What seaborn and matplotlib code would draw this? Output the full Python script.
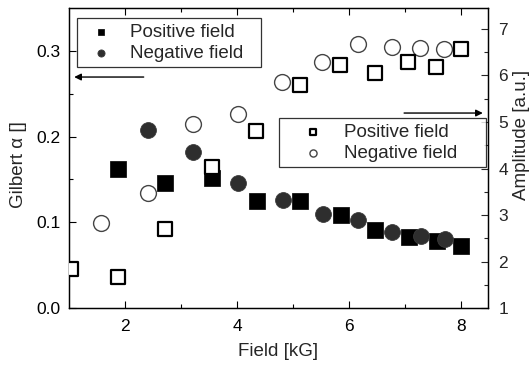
import matplotlib
matplotlib.use("Agg")
import matplotlib.pyplot as plt
import seaborn as sns
import pandas as pd

# Data
pos_field_alpha = [1.88, 2.72, 3.55, 4.35, 5.13, 5.85, 6.47, 7.07, 7.57, 8.00]
pos_alpha = [0.162, 0.1455, 0.152, 0.125, 0.125, 0.108, 0.091, 0.083, 0.0786, 0.0723]

neg_field_alpha = [2.40, 3.21, 4.02, 4.82, 5.53, 6.16, 6.77, 7.28, 7.72]
neg_alpha = [0.208, 0.182, 0.146, 0.126, 0.110, 0.1027, 0.0887, 0.084, 0.081]

pos_field_amp = [1.03, 1.88, 2.72, 3.55, 4.34, 5.13, 5.84, 6.46, 7.06, 7.56, 8.00]
pos_amp = [1.83, 1.67, 2.71, 4.04, 4.81, 5.80, 6.23, 6.05, 6.28, 6.18, 6.57]

neg_field_amp = [1.56, 2.40, 3.21, 4.01, 4.81, 5.52, 6.16, 6.76, 7.26, 7.69]
neg_amp = [2.82, 3.48, 4.95, 5.17, 5.87, 6.28, 6.67, 6.62, 6.58, 6.57]

x_ticks = [2, 4, 6, 8]
left_ticks = [0.0, 0.1, 0.2, 0.3]
right_ticks = [1, 2, 3, 4, 5, 6, 7]

sns.set_theme(style="ticks")
plt.rcParams["font.family"] = ["Liberation Sans", "DejaVu Sans"]
plt.rcParams["xtick.direction"] = "in"
plt.rcParams["ytick.direction"] = "in"

fig = plt.figure(figsize=(5.32, 3.65), dpi=100)
ax = fig.add_axes([0.130, 0.156, 0.787, 0.822])
ax2 = ax.twinx()

df_pa = pd.DataFrame({"f": pos_field_alpha, "v": pos_alpha})
df_na = pd.DataFrame({"f": neg_field_alpha, "v": neg_alpha})
df_pm = pd.DataFrame({"f": pos_field_amp, "v": pos_amp})
df_nm = pd.DataFrame({"f": neg_field_amp, "v": neg_amp})

sns.scatterplot(data=df_pa, x="f", y="v", ax=ax, marker="s", s=120,
                color="black", edgecolor="black", linewidth=0.5,
                label="Positive field", zorder=3)
sns.scatterplot(data=df_na, x="f", y="v", ax=ax, marker="o", s=130,
                color="#2e2e2e", edgecolor="#3a3a3a", linewidth=0.6,
                label="Negative field", zorder=4)
sns.scatterplot(data=df_nm, x="f", y="v", ax=ax2, marker="o", s=130,
                color="white", edgecolor="#444444", linewidth=1.0,
                label="Negative field", zorder=3)
sns.scatterplot(data=df_pm, x="f", y="v", ax=ax2, marker="s", s=105,
                color="white", edgecolor="black", linewidth=1.6,
                label="Positive field", zorder=4)

ax.set_xlim(1.0, 8.48)
ax.set_ylim(0.0, 0.35)
ax2.set_ylim(1.0, 7.45)

ax.set_xticks(x_ticks)
ax.set_xticks([3, 5, 7], minor=True)
ax.set_yticks(left_ticks)
ax.set_yticks([0.05, 0.15, 0.25], minor=True)
ax2.set_yticks(right_ticks)
ax2.set_yticks([1.5, 2.5, 3.5, 4.5, 5.5, 6.5], minor=True)
ax.set_yticklabels([f"{t:.1f}" for t in left_ticks])

ax.tick_params(axis="both", which="both", direction="in", top=True,
               labelsize=12.5, colors="black", length=5, width=0.8)
ax.tick_params(which="minor", length=3)
ax.tick_params(axis="y", right=False, pad=6.5)
ax.tick_params(axis="x", pad=8)
ax2.tick_params(axis="y", which="both", direction="in", labelsize=12.5,
                length=5, width=0.8, pad=7.5)
ax2.tick_params(axis="y", which="minor", length=3)

for a in (ax, ax2):
    for sp in a.spines.values():
        sp.set_visible(True)
        sp.set_linewidth(0.9)
        sp.set_color("black")

ax.set_xlabel("Field [kG]", fontsize=13.5, labelpad=6)
ax.set_ylabel("Gilbert \u03b1 []", fontsize=13.5)
ax.yaxis.set_label_coords(-0.100, 0.477)
ax2.set_ylabel("Amplitude [a.u.]", fontsize=13.5)
ax2.yaxis.set_label_coords(1.060, 0.577)

h1, l1 = ax.get_legend_handles_labels()
leg1 = ax.legend(h1, l1, loc="upper left", bbox_to_anchor=(0.019, 0.967, 0.439, 0.0),
                 mode="expand", borderaxespad=0, fancybox=False, frameon=True,
                 edgecolor="black", fontsize=13.5, markerscale=0.45,
                 handlelength=2.0, handletextpad=0.5, borderpad=0.3,
                 labelspacing=0.2)
leg1.get_frame().set_linewidth(0.9)
leg1.set_zorder(10)

h2, l2 = ax2.get_legend_handles_labels()
order = [l2.index("Positive field"), l2.index("Negative field")]
leg2 = ax2.legend([h2[i] for i in order], [l2[i] for i in order],
                  loc="upper left", bbox_to_anchor=(0.501, 0.633, 0.494, 0.0),
                  mode="expand", borderaxespad=0, fancybox=False, frameon=True,
                  edgecolor="black", fontsize=13.5, markerscale=0.45,
                  handlelength=3.0, handletextpad=0.15, borderpad=0.3,
                  labelspacing=0.2)
leg2.get_frame().set_linewidth(0.9)

ax.annotate("", xy=(0.012, 0.77), xytext=(0.178, 0.77), xycoords="axes fraction",
            arrowprops=dict(arrowstyle="-|>", color="black", lw=1.0,
                            mutation_scale=10, shrinkA=0, shrinkB=0))
ax2.annotate("", xy=(0.988, 0.65), xytext=(0.800, 0.65), xycoords="axes fraction",
             arrowprops=dict(arrowstyle="-|>", color="black", lw=1.0,
                             mutation_scale=10, shrinkA=0, shrinkB=0))

fig.savefig("out.png", dpi=100)
